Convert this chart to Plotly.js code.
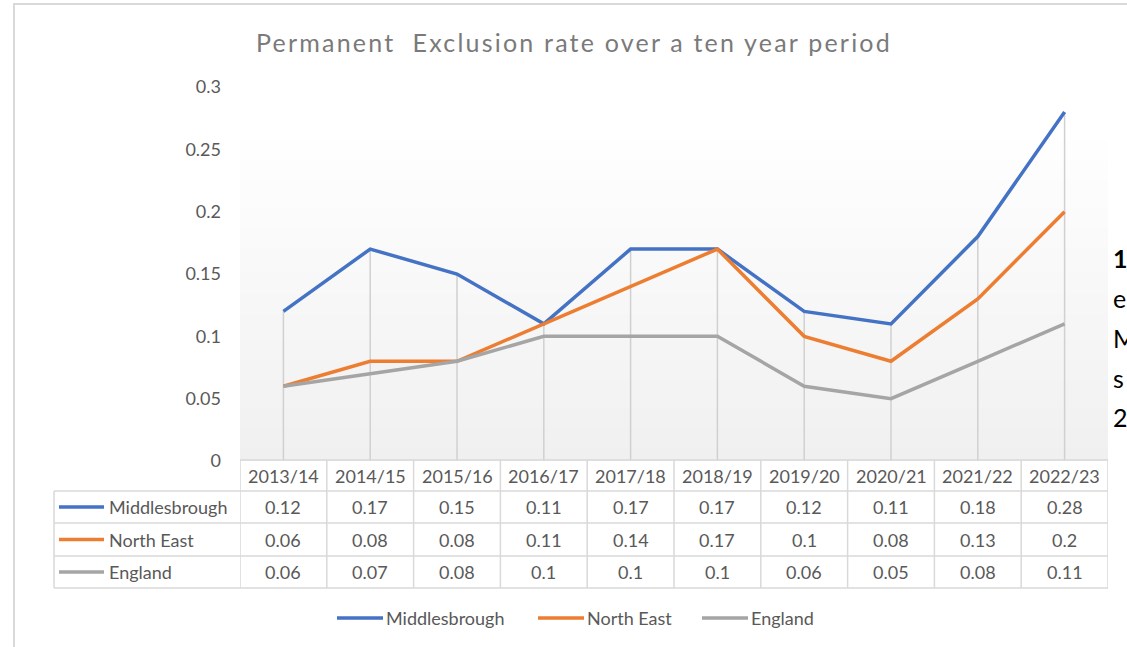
<!DOCTYPE html>
<html>
<head>
<meta charset="utf-8">
<script src="https://cdn.plot.ly/plotly-3.0.1.min.js"></script>
<style>
  html, body { margin: 0; padding: 0; background: #ffffff; }
  #chart { width: 1127px; height: 647px; }
  .gtitle { letter-spacing: 2.2px; }
</style>
</head>
<body>
<div id="chart"></div>
<script>
// ---- data ----
const years = ["2013/14","2014/15","2015/16","2016/17","2017/18","2018/19","2019/20","2020/21","2021/22","2022/23"];
const middlesbrough = [0.12, 0.17, 0.15, 0.11, 0.17, 0.17, 0.12, 0.11, 0.18, 0.28];
const northEast     = [0.06, 0.08, 0.08, 0.11, 0.14, 0.17, 0.10, 0.08, 0.13, 0.20];
const england       = [0.06, 0.07, 0.08, 0.10, 0.10, 0.10, 0.06, 0.05, 0.08, 0.11];
const seriesNames = ["Middlesbrough", "North East", "England"];
const yTicks = [0, 0.05, 0.1, 0.15, 0.2, 0.25, 0.3];
const titleText = "Permanent  Exclusion rate over a ten year period";
const sideText = ["1", "e", "M", "s", "2"];

// ---- styling / geometry ----
const W = 1127, H = 647;
const L = 240, R = 1108, T = 87, B = 461;   // plot area in pixels
const colors = ["#4472C4", "#ED7D31", "#A5A5A5"];
const grid = "#D9D9D9";
const txt = "#595959";
const FONT = "Lato, 'Open Sans', sans-serif";
const py = p => (B - p) / (B - T);          // pixel y -> paper y
const px = p => (p - L) / (R - L);          // pixel x -> paper x
const xi = years.map((_, i) => i);
const allSeries = [middlesbrough, northEast, england];

const traces = [];

// drop lines from the highest point down to the axis
const dx = [], dy = [];
xi.forEach(i => {
  const top = Math.max(middlesbrough[i], northEast[i], england[i]);
  dx.push(i, i, null); dy.push(0, top, null);
});
traces.push({ x: dx, y: dy, mode: "lines", line: { color: "#D0D0D0", width: 1.5 },
  hoverinfo: "skip", showlegend: false });

allSeries.forEach((s, k) => {
  traces.push({ x: xi, y: s, name: seriesNames[k], mode: "lines",
    line: { color: colors[k], width: 3.5 }, showlegend: false });
});

const shapes = [];
// gradient plot background (white at top -> light grey at bottom)
const gTop = 128, gBot = 461, steps = 50;
for (let s = 0; s < steps; s++) {
  const y0 = gTop + (gBot - gTop) * s / steps;
  const y1 = gTop + (gBot - gTop) * (s + 1) / steps;
  const t = (s + 0.5) / steps;
  const c = Math.round(255 - t * (255 - 240));
  shapes.push({ type: "rect", xref: "paper", yref: "paper", layer: "below",
    x0: 0, x1: 1, y0: py(y1), y1: py(y0) + 0.002,
    fillcolor: `rgb(${c},${c},${c})`, line: { width: 0 } });
}
// outer chart frame
shapes.push({ type: "rect", xref: "paper", yref: "paper", layer: "below",
  x0: px(14), x1: px(1135), y0: py(660), y1: py(4),
  fillcolor: "rgba(0,0,0,0)", line: { color: grid, width: 2 } });

// data table grid
const rowsY = [460, 491, 523, 556, 588];
const lineStyle = { color: grid, width: 1.5 };
shapes.push({ type: "line", xref: "x", yref: "paper", x0: -0.5, x1: 9.5, y0: py(rowsY[0]), y1: py(rowsY[0]), line: lineStyle });
for (let r = 1; r < rowsY.length; r++) {
  shapes.push({ type: "line", xref: "paper", yref: "paper", x0: px(54), x1: 1, y0: py(rowsY[r]), y1: py(rowsY[r]), line: lineStyle });
}
for (let c = 0; c <= years.length; c++) {
  shapes.push({ type: "line", xref: "x", yref: "paper", x0: c - 0.5, x1: c - 0.5, y0: py(rowsY[0]), y1: py(rowsY[4]), line: lineStyle });
}
shapes.push({ type: "line", xref: "paper", yref: "paper", x0: px(54), x1: px(54), y0: py(rowsY[1]), y1: py(rowsY[4]), line: lineStyle });

const annotations = [];
const cellFont = { family: FONT, size: 18, color: txt };
const rowCenters = [475.5, 507, 539.5, 572];
// header: category labels
years.forEach((yr, i) => annotations.push({ x: i, y: py(rowCenters[0]), xref: "x", yref: "paper",
  yanchor: "middle", text: yr, showarrow: false, font: cellFont }));
// rows: series legend key + name + values
allSeries.forEach((s, k) => {
  const yc = py(rowCenters[k + 1]);
  shapes.push({ type: "line", xref: "paper", yref: "paper", x0: px(59), x1: px(104), y0: yc, y1: yc,
    line: { color: colors[k], width: 3.5 } });
  annotations.push({ x: px(107), y: yc, xref: "paper", yref: "paper", xanchor: "left", yanchor: "middle",
    text: seriesNames[k], showarrow: false, font: cellFont });
  s.forEach((v, i) => annotations.push({ x: i, y: yc, xref: "x", yref: "paper", yanchor: "middle",
    text: String(v), showarrow: false, font: cellFont }));
});

// legend below the table (key line + name)
const legKeyX = [337, 538, 702];
const legY = py(618);
seriesNames.forEach((nm, k) => {
  shapes.push({ type: "line", xref: "paper", yref: "paper", x0: px(legKeyX[k]), x1: px(legKeyX[k] + 46),
    y0: legY, y1: legY, line: { color: colors[k], width: 3.5 } });
  annotations.push({ x: px(legKeyX[k] + 47), y: legY, xref: "paper", yref: "paper", xanchor: "left",
    yanchor: "middle", text: nm, showarrow: false, font: cellFont });
});

// text of the surrounding document at the right edge
const sideY = [258, 298, 338, 378, 417];
sideText.forEach((t, i) => annotations.push({ x: px(1111), y: py(sideY[i]), xref: "paper", yref: "paper",
  xanchor: "left", yanchor: "middle", text: i === 0 ? "<b>" + t + "</b>" : t, showarrow: false,
  font: { family: "Lato, sans-serif", size: 25, color: "#000000" } }));

const layout = {
  width: W, height: H,
  margin: { l: L, r: W - R, t: T, b: H - B, pad: 0 },
  paper_bgcolor: "rgba(0,0,0,0)", plot_bgcolor: "rgba(0,0,0,0)",
  font: { family: FONT, size: 18, color: txt },
  title: { text: titleText, xref: "container", yref: "container", x: 574 / W, y: 1 - 43 / H,
    xanchor: "center", yanchor: "middle", font: { family: FONT, size: 25, color: "#7A7A7A" } },
  xaxis: { range: [-0.5, 9.5], showticklabels: false, showgrid: false, zeroline: false,
    showline: false, ticks: "", fixedrange: true },
  yaxis: { range: [0, 0.3], tickvals: yTicks, ticktext: yTicks.map(String), showgrid: false,
    zeroline: false, showline: false, ticks: "", ticklabelstandoff: 18,
    tickfont: { family: FONT, size: 18, color: txt }, fixedrange: true },
  showlegend: false,
  shapes: shapes, annotations: annotations
};

Plotly.newPlot("chart", traces, layout, { displayModeBar: false, staticPlot: true });
</script>
</body>
</html>
